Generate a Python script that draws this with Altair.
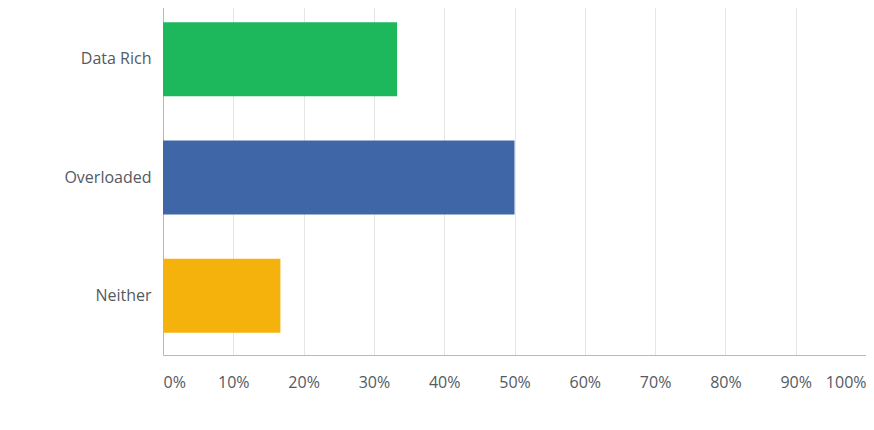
import altair as alt
import pandas as pd

categories = ["Data Rich", "Overloaded", "Neither"]
values = [33.3, 50.0, 16.7]
colors = ["#1db75c", "#3f66a6", "#f5b20c"]
ticks = [0, 10, 20, 30, 40, 50, 60, 70, 80, 90, 100]

df = pd.DataFrame({"category": categories, "value": values})

chart = alt.Chart(df).mark_bar().encode(
    y=alt.Y("category:N", sort=categories, title=None,
            scale=alt.Scale(paddingInner=0.375, paddingOuter=0.1875),
            axis=alt.Axis(labelFontSize=16, labelColor="#545a61", labelFont="Open Sans",
                          labelPadding=12, ticks=False, domainColor="#b8b8b8", grid=False)),
    x=alt.X("value:Q", title=None,
            scale=alt.Scale(domain=[0, 100], nice=False),
            axis=alt.Axis(values=ticks, labelExpr="datum.value + '%'", labelFontSize=16,
                          labelColor="#545a61", labelFont="Open Sans", labelPadding=19,
                          ticks=False, domainColor="#b8b8b8", gridColor="#e6e6e6",
                          labelFlush=True)),
    color=alt.Color("category:N", scale=alt.Scale(domain=categories, range=colors), legend=None),
).properties(
    width=703, height=355,
    autosize=alt.AutoSizeParams(type="none"),
    padding={"left": 155, "top": -8, "right": 0, "bottom": 60},
).configure_view(stroke=None)

chart.save("out.html", embed_options={"renderer": "svg", "actions": False})
